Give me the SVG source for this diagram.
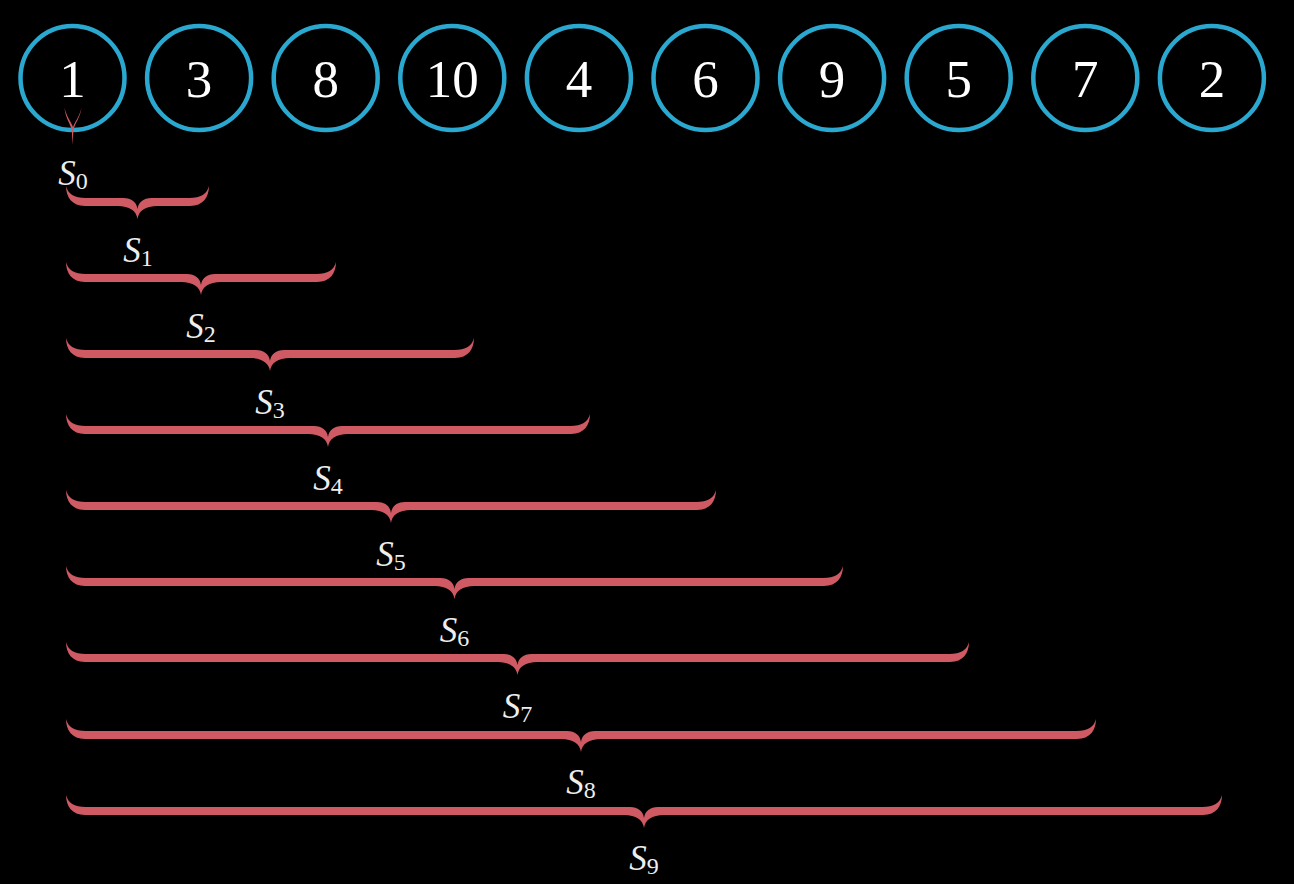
<svg xmlns="http://www.w3.org/2000/svg" width="1294" height="884" viewBox="0 0 1294 884">
<style>
.c{fill:none;stroke:#2AA8CF;stroke-width:4.5}
.n{font-family:"Liberation Serif",serif;font-size:53px;fill:#FFFFFF;text-anchor:middle}
.b{fill:#CF5A64}
.l{font-family:"Liberation Serif",serif;font-size:35px;fill:#EEEEEE;text-anchor:middle}
.s{font-size:24px;font-style:normal}
</style>
<rect width="1294" height="884" fill="#000"/>
<g id="nodes">
<g id="n1"><circle class="c" cx="72.5" cy="78" r="52"/><text class="n" x="72.5" y="97">1</text></g>
<g id="n3"><circle class="c" cx="199.1" cy="78" r="52"/><text class="n" x="199.1" y="97">3</text></g>
<g id="n8"><circle class="c" cx="325.7" cy="78" r="52"/><text class="n" x="325.7" y="97">8</text></g>
<g id="n10"><circle class="c" cx="452.3" cy="78" r="52"/><text class="n" x="452.3" y="97">10</text></g>
<g id="n4"><circle class="c" cx="578.9" cy="78" r="52"/><text class="n" x="578.9" y="97">4</text></g>
<g id="n6"><circle class="c" cx="705.5" cy="78" r="52"/><text class="n" x="705.5" y="97">6</text></g>
<g id="n9"><circle class="c" cx="832.1" cy="78" r="52"/><text class="n" x="832.1" y="97">9</text></g>
<g id="n5"><circle class="c" cx="958.7" cy="78" r="52"/><text class="n" x="958.7" y="97">5</text></g>
<g id="n7"><circle class="c" cx="1085.3" cy="78" r="52"/><text class="n" x="1085.3" y="97">7</text></g>
<g id="n2"><circle class="c" cx="1211.9" cy="78" r="52"/><text class="n" x="1211.9" y="97">2</text></g>
</g>
<g id="braces">
<g id="brace0"><path class="b" d="M64.5,108 C65.5,118 70,123 71.8,130 L72.6,145 L73.4,130 C75,123 80,118 81.5,108 C79,117 75.5,121 73,127 C70.5,121 67,117 64.5,108 Z"/><text class="l" x="73" y="185"><tspan font-style="italic">S</tspan><tspan class="s" dy="4">0</tspan></text></g>
<g id="brace1"><path class="b" transform="translate(0,186)" d="M66,0 C68,8 74,12 86,12 L123.5,12 C131.5,12 136.5,16 137.5,23 C138.5,16 143.5,12 151.5,12 L189,12 C201,12 207,8 209,0 C209,11 203,20 190,20 L157.5,20 C145.5,20 138.5,25 137.5,33 C136.5,25 129.5,20 117.5,20 L85,20 C72,20 66,11 66,0 Z"/><text class="l" x="138" y="262"><tspan font-style="italic">S</tspan><tspan class="s" dy="4">1</tspan></text></g>
<g id="brace2"><path class="b" transform="translate(0,262)" d="M66,0 C68,8 74,12 86,12 L187,12 C195,12 200,16 201,23 C202,16 207,12 215,12 L316,12 C328,12 334,8 336,0 C336,11 330,20 317,20 L221,20 C209,20 202,25 201,33 C200,25 193,20 181,20 L85,20 C72,20 66,11 66,0 Z"/><text class="l" x="201" y="338"><tspan font-style="italic">S</tspan><tspan class="s" dy="4">2</tspan></text></g>
<g id="brace3"><path class="b" transform="translate(0,338)" d="M66,0 C68,8 74,12 86,12 L256,12 C264,12 269,16 270,23 C271,16 276,12 284,12 L454,12 C466,12 472,8 474,0 C474,11 468,20 455,20 L290,20 C278,20 271,25 270,33 C269,25 262,20 250,20 L85,20 C72,20 66,11 66,0 Z"/><text class="l" x="270" y="414"><tspan font-style="italic">S</tspan><tspan class="s" dy="4">3</tspan></text></g>
<g id="brace4"><path class="b" transform="translate(0,414)" d="M66,0 C68,8 74,12 86,12 L314,12 C322,12 327,16 328,23 C329,16 334,12 342,12 L570,12 C582,12 588,8 590,0 C590,11 584,20 571,20 L348,20 C336,20 329,25 328,33 C327,25 320,20 308,20 L85,20 C72,20 66,11 66,0 Z"/><text class="l" x="328" y="490"><tspan font-style="italic">S</tspan><tspan class="s" dy="4">4</tspan></text></g>
<g id="brace5"><path class="b" transform="translate(0,490)" d="M66,0 C68,8 74,12 86,12 L377,12 C385,12 390,16 391,23 C392,16 397,12 405,12 L696,12 C708,12 714,8 716,0 C716,11 710,20 697,20 L411,20 C399,20 392,25 391,33 C390,25 383,20 371,20 L85,20 C72,20 66,11 66,0 Z"/><text class="l" x="391" y="566"><tspan font-style="italic">S</tspan><tspan class="s" dy="4">5</tspan></text></g>
<g id="brace6"><path class="b" transform="translate(0,566)" d="M66,0 C68,8 74,12 86,12 L440.5,12 C448.5,12 453.5,16 454.5,23 C455.5,16 460.5,12 468.5,12 L823,12 C835,12 841,8 843,0 C843,11 837,20 824,20 L474.5,20 C462.5,20 455.5,25 454.5,33 C453.5,25 446.5,20 434.5,20 L85,20 C72,20 66,11 66,0 Z"/><text class="l" x="454.5" y="642"><tspan font-style="italic">S</tspan><tspan class="s" dy="4">6</tspan></text></g>
<g id="brace7"><path class="b" transform="translate(0,642)" d="M66,0 C68,8 74,12 86,12 L503.5,12 C511.5,12 516.5,16 517.5,23 C518.5,16 523.5,12 531.5,12 L949,12 C961,12 967,8 969,0 C969,11 963,20 950,20 L537.5,20 C525.5,20 518.5,25 517.5,33 C516.5,25 509.5,20 497.5,20 L85,20 C72,20 66,11 66,0 Z"/><text class="l" x="517.5" y="718"><tspan font-style="italic">S</tspan><tspan class="s" dy="4">7</tspan></text></g>
<g id="brace8"><path class="b" transform="translate(0,719)" d="M66,0 C68,8 74,12 86,12 L567,12 C575,12 580,16 581,23 C582,16 587,12 595,12 L1076,12 C1088,12 1094,8 1096,0 C1096,11 1090,20 1077,20 L601,20 C589,20 582,25 581,33 C580,25 573,20 561,20 L85,20 C72,20 66,11 66,0 Z"/><text class="l" x="581" y="794"><tspan font-style="italic">S</tspan><tspan class="s" dy="4">8</tspan></text></g>
<g id="brace9"><path class="b" transform="translate(0,795)" d="M66,0 C68,8 74,12 86,12 L630,12 C638,12 643,16 644,23 C645,16 650,12 658,12 L1202,12 C1214,12 1220,8 1222,0 C1222,11 1216,20 1203,20 L664,20 C652,20 645,25 644,33 C643,25 636,20 624,20 L85,20 C72,20 66,11 66,0 Z"/><text class="l" x="644" y="870"><tspan font-style="italic">S</tspan><tspan class="s" dy="4">9</tspan></text></g>
</g>
</svg>
